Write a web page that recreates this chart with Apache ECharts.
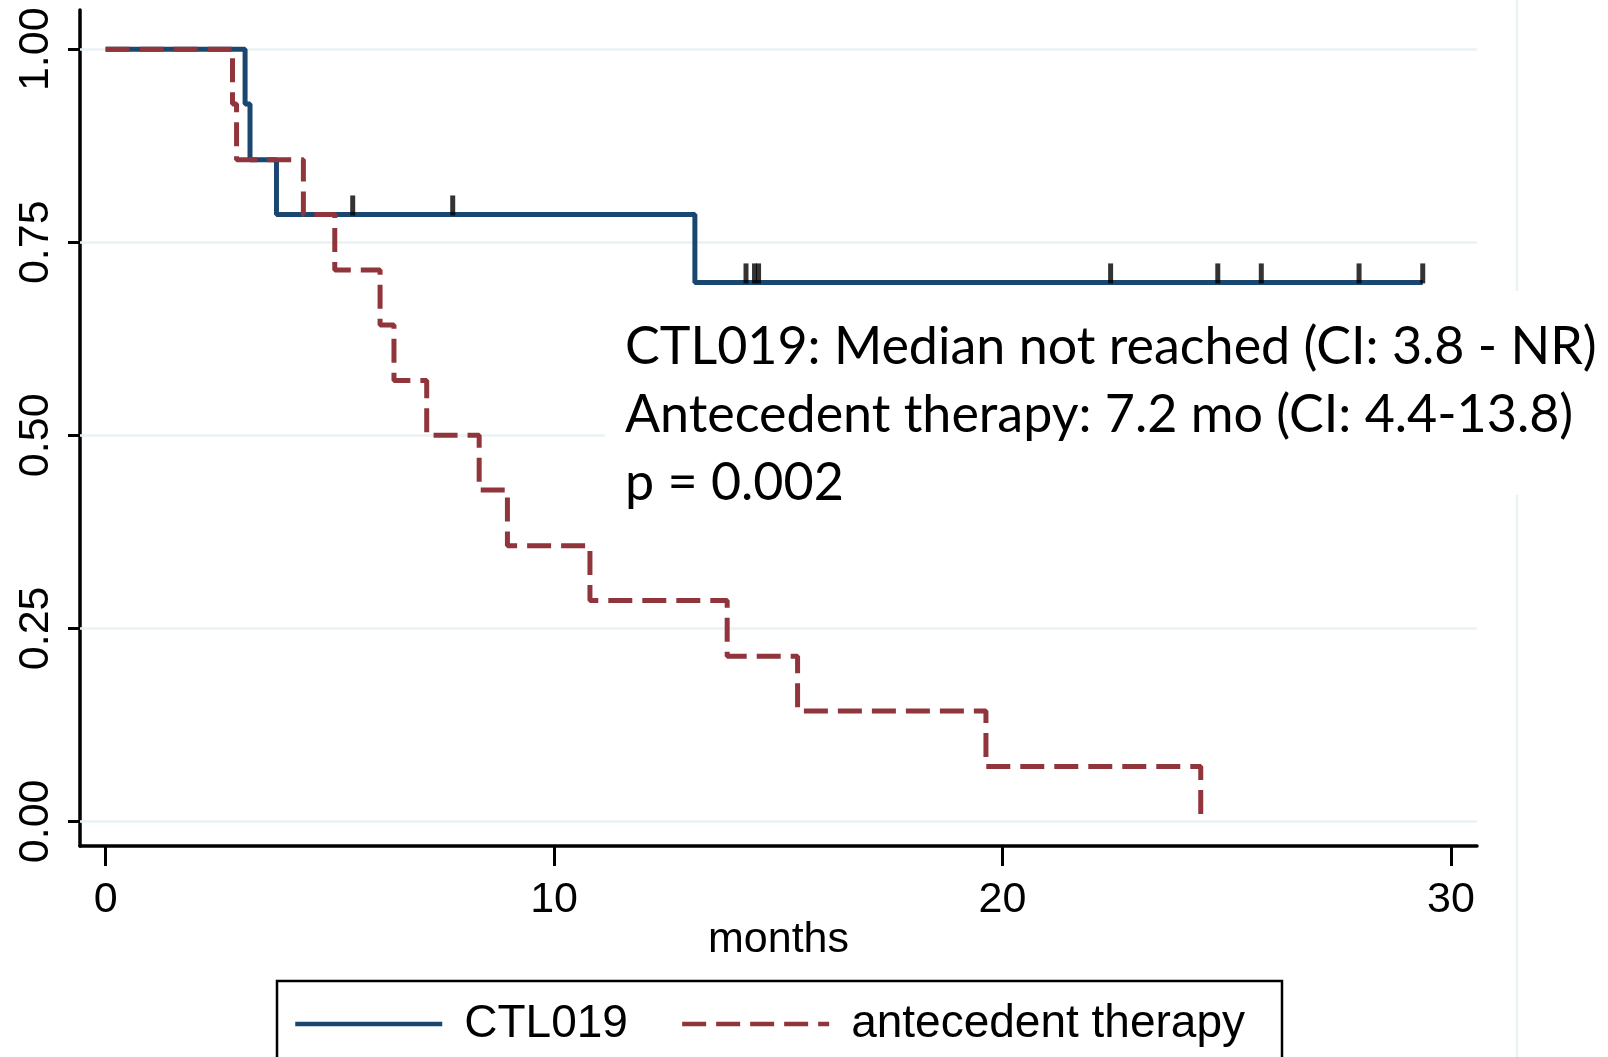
<!DOCTYPE html>
<html>
<head>
<meta charset="utf-8">
<script src="https://cdn.jsdelivr.net/npm/echarts@6/dist/echarts.min.js"></script>
<style>
html,body{margin:0;padding:0;background:#fff;}
#chart{width:1608px;height:1057px;}
</style>
</head>
<body>
<div id="chart"></div>
<script>
// ---- data ----
const ctlTimes = [0, 3.11, 3.22, 3.81, 13.14, 29.37];
const ctlSurv  = [1.0, 0.929, 0.857, 0.786, 0.698, 0.698];
const ctlCensorTimes = [5.51, 7.74, 14.28, 14.47, 14.56, 22.41, 24.80, 25.77, 27.95, 29.37];
const ctlCensorSurv  = [0.786, 0.786, 0.698, 0.698, 0.698, 0.698, 0.698, 0.698, 0.698, 0.698];
const antTimes = [0, 2.83, 2.92, 4.41, 5.11, 6.12, 6.43, 7.16, 8.33, 8.96, 10.8, 13.86, 15.43, 19.63, 24.42];
const antSurv  = [1.0, 0.929, 0.857, 0.786, 0.714, 0.643, 0.571, 0.5, 0.429, 0.357, 0.286, 0.214, 0.143, 0.071, 0.0];
const xTicks = [0, 10, 20, 30];
const yTicks = [0, 0.25, 0.5, 0.75, 1];
const yTickLabels = ['0.00', '0.25', '0.50', '0.75', '1.00'];
const seriesNames = ['CTL019', 'antecedent therapy'];
const xAxisTitle = 'months';
const annotationLines = [
  'CTL019: Median not reached (CI: 3.8 - NR)',
  'Antecedent therapy: 7.2 mo (CI: 4.4-13.8)',
  'p = 0.002'
];

const NAVY = '#1a476f', MAROON = '#90353b', GRID = '#eaf2f3';
const zip = (a, b) => a.map((v, i) => [v, b[i]]);

const chart = echarts.init(document.getElementById('chart'), null, {renderer: 'canvas'});
const axisFont = {fontFamily: 'Liberation Sans, Arial, sans-serif', fontSize: 43, color: '#000'};

chart.setOption({
  animation: false,
  backgroundColor: '#fff',
  grid: {left: 80, right: 131, top: 10, bottom: 211, containLabel: false},
  xAxis: {
    type: 'value', min: -0.571, max: 30.58,
    name: xAxisTitle, nameLocation: 'middle', nameGap: 73, nameMoveOverlap: false,
    nameTextStyle: axisFont,
    axisLine: {show: true, onZero: false, lineStyle: {color: '#000', width: 3.5}},
    axisTick: {show: true, customValues: xTicks, length: 20, lineStyle: {color: '#000', width: 3}},
    axisLabel: {show: true, customValues: xTicks, margin: 33, ...axisFont},
    splitLine: {show: false}
  },
  yAxis: {
    type: 'value', min: -0.0319, max: 1.0508,
    axisLine: {show: true, onZero: false, lineStyle: {color: '#000', width: 3.5}},
    axisTick: {show: true, customValues: yTicks, length: 12, lineStyle: {color: '#000', width: 3}},
    axisLabel: {show: true, customValues: yTicks, rotate: 90, margin: 22, ...axisFont,
      formatter: v => { const i = yTicks.findIndex(t => Math.abs(t - v) < 1e-6); return i >= 0 ? yTickLabels[i] : ''; }},
    splitLine: {show: false}
  },
  legend: {
    left: 277, top: 981,
    padding: [18, 37, 40, 16],
    borderColor: '#000', borderWidth: 2.5, backgroundColor: '#fff',
    itemWidth: 147, itemHeight: 20, itemGap: 52,
    itemStyle: {opacity: 0},
    lineStyle: {width: 4.5},
    textStyle: {fontFamily: 'Liberation Sans, Arial, sans-serif', fontSize: 46, color: '#000', padding: [0, 0, 0, 17], lineHeight: 50},
    data: seriesNames
  },
  series: [
    {
      type: 'line', name: '__grid', z: 0, silent: true, data: [],
      markLine: {
        z: 1, silent: true, symbol: 'none', label: {show: false},
        lineStyle: {color: GRID, width: 2.5, type: 'solid'},
        data: yTicks.map(v => ({yAxis: v}))
      }
    },
    {
      type: 'line', name: seriesNames[0], step: 'end', z: 2,
      symbol: 'none', data: zip(ctlTimes, ctlSurv),
      lineStyle: {color: NAVY, width: 5, type: 'solid'},
      itemStyle: {color: NAVY}
    },
    {
      type: 'line', name: seriesNames[1], step: 'end', z: 3,
      symbol: 'none', data: zip(antTimes, antSurv),
      lineStyle: {color: MAROON, width: 5, type: [24, 10]},
      itemStyle: {color: MAROON}
    },
    {
      type: 'scatter', name: '__censor', z: 4, silent: true,
      symbol: 'rect', symbolSize: [5, 20], symbolOffset: [0, -9],
      itemStyle: {color: '#000'},
      data: zip(ctlCensorTimes, ctlCensorSurv)
    }
  ],
  graphic: [
    {type: 'line', z: 1, silent: true, shape: {x1: 1517, y1: 0, x2: 1517, y2: 1057}, style: {stroke: GRID, lineWidth: 2.5}},
    {type: 'rect', z: 5, silent: true, shape: {x: 605, y: 291, width: 1003, height: 204}, style: {fill: '#fff'}},
    ...annotationLines.map((t, i) => ({
      type: 'text', z: 6, silent: true,
      style: {text: t, x: 625, y: 347 + i * 68, fill: '#000', font: '52px Lato, "Open Sans", sans-serif', verticalAlign: 'middle', align: 'left'}
    }))
  ]
});
</script>
</body>
</html>
